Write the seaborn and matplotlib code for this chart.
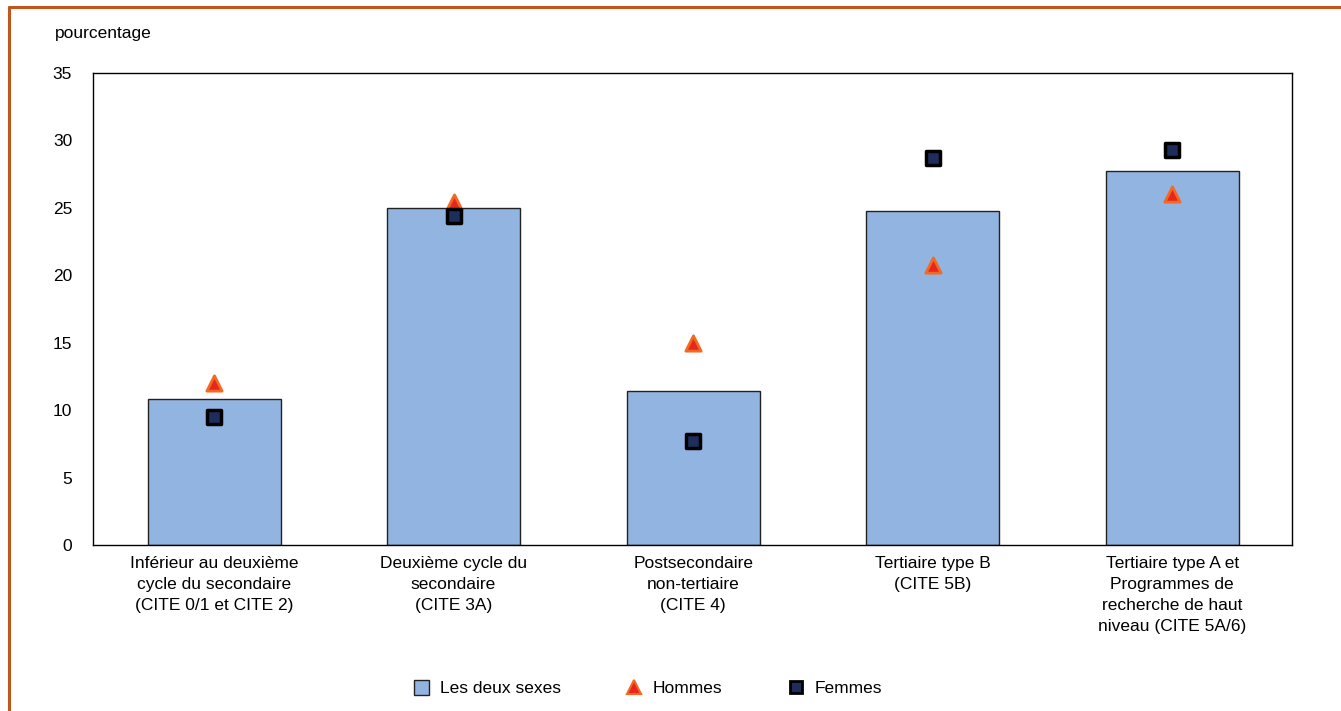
import matplotlib
matplotlib.use("Agg")
import matplotlib.pyplot as plt
from matplotlib.lines import Line2D
from matplotlib.patches import Patch
import seaborn as sns
import pandas as pd

# ================= DONNÉES =================
categories = [
    "Inférieur au deuxième\ncycle du secondaire\n(CITE 0/1 et CITE 2)",
    "Deuxième cycle du\nsecondaire\n(CITE 3A)",
    "Postsecondaire\nnon-tertiaire\n(CITE 4)",
    "Tertiaire type B\n(CITE 5B)",
    "Tertiaire type A et\nProgrammes de\nrecherche de haut\nniveau (CITE 5A/6)",
]
deux_sexes = [10.8, 25.0, 11.4, 24.8, 27.7]
hommes = [12.0, 25.4, 15.0, 20.8, 26.0]
femmes = [9.5, 24.4, 7.7, 28.7, 29.3]

yticks = [0, 5, 10, 15, 20, 25, 30, 35]

# ================= COULEURS =================
BLEU_BARRE = "#92B4E0"
ROUGE = "#E8251F"
ORANGE = "#F26A22"
MARINE = "#1F2D5C"
BORD = "#C0561C"

sns.set_style("white")
plt.rcParams["font.family"] = ["Liberation Sans", "DejaVu Sans"]
plt.rcParams["font.size"] = 12
plt.rcParams["text.color"] = "black"
plt.rcParams["xtick.color"] = "black"
plt.rcParams["ytick.color"] = "black"

df = pd.DataFrame({
    "categorie": categories,
    "deux": deux_sexes,
    "hommes": hommes,
    "femmes": femmes,
})

fig = plt.figure(figsize=(13.41, 7.11), dpi=100)
ax = fig.add_axes([0.0694, 0.2335, 0.8941, 0.6638])

sns.barplot(data=df, x="categorie", y="deux", color=BLEU_BARRE, saturation=1,
            width=0.555, edgecolor="#222222", linewidth=1.0, ax=ax)
sns.stripplot(data=df, x="categorie", y="hommes", jitter=False, marker="^",
              size=11, color=ROUGE, edgecolor=ORANGE, linewidth=2, ax=ax, zorder=4)
sns.stripplot(data=df, x="categorie", y="femmes", jitter=False, marker="s",
              size=10, color=MARINE, edgecolor="black", linewidth=2.5, ax=ax, zorder=5)

ax.set_xlim(-0.505, 4.5)
ax.set_ylim(0, 35)
ax.set_yticks(yticks)
ax.set_xlabel("")
ax.set_ylabel("")
ax.tick_params(axis="y", length=0, pad=15, labelsize=12.5)
ax.tick_params(axis="x", length=0, pad=8, labelsize=12.5)
for lab in ax.get_xticklabels():
    lab.set_linespacing(1.5)
for s in ax.spines.values():
    s.set_visible(True)
    s.set_color("black")
    s.set_linewidth(1.0)

fig.text(0.041, 0.953, "pourcentage", fontsize=12.5, ha="left", va="center")

# Légende
handles = [
    Patch(facecolor=BLEU_BARRE, edgecolor="#222222", linewidth=1.0),
    Line2D([], [], marker="^", linestyle="none", markersize=10,
           markerfacecolor=ROUGE, markeredgecolor=ORANGE, markeredgewidth=1.5),
    Line2D([], [], marker="s", linestyle="none", markersize=9,
           markerfacecolor=MARINE, markeredgecolor="black", markeredgewidth=2),
]
fig.legend(handles, ["Les deux sexes", "Hommes", "Femmes"], loc="center",
           bbox_to_anchor=(0.483, 0.032), ncol=3, frameon=False, fontsize=12.5,
           handlelength=0.9, handleheight=0.9, handletextpad=0.6, columnspacing=3.8)

# Cadre orange
fig.add_artist(Line2D([9 / 1341, 1], [1 - 7 / 711, 1 - 7 / 711], color=BORD,
                      linewidth=2.2, transform=fig.transFigure))
fig.add_artist(Line2D([9 / 1341, 9 / 1341], [0, 1 - 7 / 711], color=BORD,
                      linewidth=2.2, transform=fig.transFigure))

fig.savefig("out.png", dpi=100)
